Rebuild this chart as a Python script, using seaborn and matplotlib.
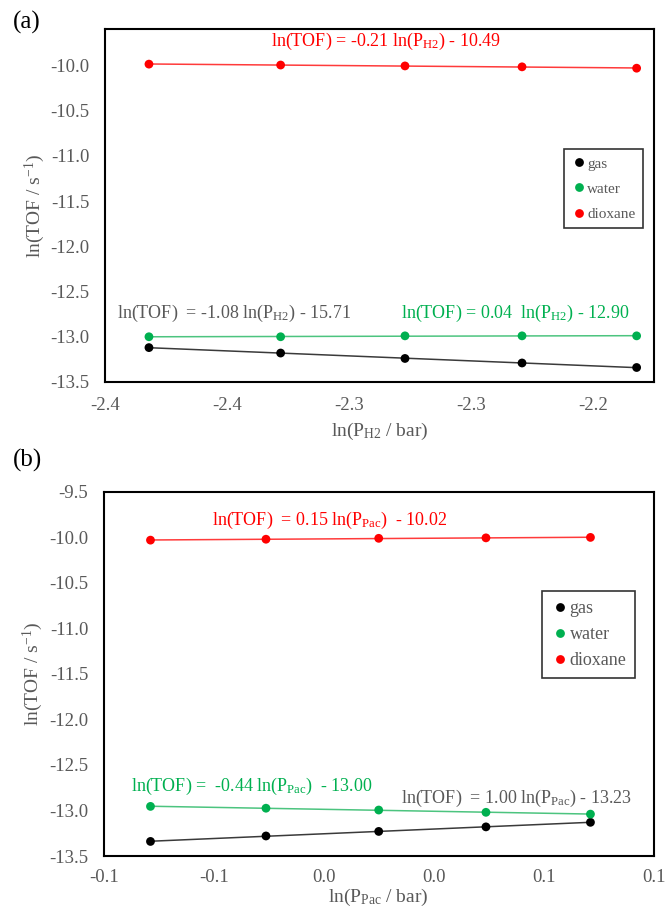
import numpy as np
import pandas as pd
import matplotlib
matplotlib.use("Agg")
import matplotlib.pyplot as plt
import seaborn as sns

# ---------------- data ----------------
MEDIA = ["gas", "water", "dioxane"]

XA = [-2.422, -2.368, -2.317, -2.269, -2.222]          # ln(P_H2 / bar)
GAS_A = [-13.12, -13.18, -13.24, -13.29, -13.34]
WATER_A = [-13.00, -13.00, -12.99, -12.99, -12.99]
DIOX_A = [-9.985, -9.995, -10.005, -10.015, -10.03]

XB = [-0.083, -0.041, 0.000, 0.039, 0.077]             # ln(P_Pac / bar)
GAS_B = [-13.34, -13.28, -13.23, -13.18, -13.13]
WATER_B = [-12.955, -12.975, -12.995, -13.02, -13.04]
DIOX_B = [-10.03, -10.02, -10.01, -10.005, -10.00]

XA_TICKS = [-2.44, -2.39, -2.34, -2.29, -2.24]
XA_TICKLABELS = ["-2.4", "-2.4", "-2.3", "-2.3", "-2.2"]
XB_TICKS = [-0.10, -0.06, -0.02, 0.02, 0.06, 0.10]
XB_TICKLABELS = ["-0.1", "-0.1", "0.0", "0.0", "0.1", "0.1"]
YA_TICKS = [-10.0, -10.5, -11.0, -11.5, -12.0, -12.5, -13.0, -13.5]
YB_TICKS = [-9.5, -10.0, -10.5, -11.0, -11.5, -12.0, -12.5, -13.0, -13.5]

EQ_A = [
    ("ln(TOF) = -0.21 ln(P$_{\\mathrm{H2}}$) - 10.49", "dioxane", -2.325, -9.73),
    ("ln(TOF)  = -1.08 ln(P$_{\\mathrm{H2}}$) - 15.71", "gas", -2.387, -12.74),
    ("ln(TOF) = 0.04  ln(P$_{\\mathrm{H2}}$) - 12.90", "water", -2.272, -12.74),
]
EQ_B = [
    ("ln(TOF)  = 0.15 ln(P$_{\\mathrm{Pac}}$)  - 10.02", "dioxane", -0.018, -9.81),
    ("ln(TOF) =  -0.44 ln(P$_{\\mathrm{Pac}}$)  - 13.00", "water", -0.046, -12.74),
    ("ln(TOF)  = 1.00 ln(P$_{\\mathrm{Pac}}$) - 13.23", "gas", 0.05, -12.87),
]

# ---------------- style ----------------
sns.set_theme(style="white")
plt.rcParams["font.family"] = ["Liberation Serif", "DejaVu Serif"]
plt.rcParams["mathtext.fontset"] = "custom"
plt.rcParams["mathtext.rm"] = "Liberation Serif"
plt.rcParams["mathtext.it"] = "Liberation Serif:italic"
plt.rcParams["axes.unicode_minus"] = False

GRAY = "#595959"
PALETTE = {"gas": "#000000", "water": "#00B050", "dioxane": "#FF0000"}
LINE_COL = {"gas": "#3a3a3a", "water": "#4CC47F", "dioxane": "#FF3B3B"}
EQ_COL = {"gas": GRAY, "water": "#00B050", "dioxane": "#FF0000"}


def make_df(x, gas, water, diox):
    rows = []
    for m, ys in zip(MEDIA, [gas, water, diox]):
        for xi, yi in zip(x, ys):
            rows.append({"x": xi, "y": yi, "medium": m})
    return pd.DataFrame(rows)


dfa = make_df(XA, GAS_A, WATER_A, DIOX_A)
dfb = make_df(XB, GAS_B, WATER_B, DIOX_B)

fig = plt.figure(figsize=(6.65, 9.16), dpi=100)
axa = fig.add_axes([0.158, 0.583, 0.825, 0.385])
axb = fig.add_axes([0.156, 0.0655, 0.827, 0.3975])


def draw(ax, df, xlim, ylim, xticks, xticklabels, yticks, eqs, xlabel, leg_anchor,
         leg_fs, leg_spacing, xpad, xlabelpad):
    for m in MEDIA:
        sub = df[df.medium == m]
        sns.regplot(data=sub, x="x", y="y", ax=ax, scatter=False, ci=None,
                    truncate=True, color=LINE_COL[m], line_kws=dict(lw=1.1))
    sns.scatterplot(data=df, x="x", y="y", hue="medium", hue_order=MEDIA,
                    palette=PALETTE, s=40, edgecolor="none", ax=ax, zorder=5)
    ax.set_xlim(*xlim)
    ax.set_ylim(*ylim)
    ax.set_xticks(xticks)
    ax.set_xticklabels(xticklabels)
    ax.set_yticks(yticks)
    ax.set_yticklabels([f"{v:.1f}" for v in yticks])
    ax.tick_params(axis="both", direction="in", length=5, width=1.2,
                   colors="black", labelcolor=GRAY, labelsize=13.5)
    ax.tick_params(axis="x", pad=xpad)
    ax.tick_params(axis="y", pad=11)
    for s in ax.spines.values():
        s.set_color("black")
        s.set_linewidth(1.5)
    ax.set_xlabel(xlabel, fontsize=14, color=GRAY, labelpad=xlabelpad)
    ax.set_ylabel("ln(TOF / s$^{\\mathrm{-1}}$)", fontsize=14, color=GRAY, labelpad=3)
    for txt, m, tx, ty in eqs:
        ax.text(tx, ty, txt, ha="center", va="center", color=EQ_COL[m], fontsize=13)
    h, l = ax.get_legend_handles_labels()
    leg = ax.legend(h, l, loc="upper left", bbox_to_anchor=leg_anchor, frameon=True,
                    fancybox=False, edgecolor="black", fontsize=leg_fs,
                    labelcolor=GRAY, handletextpad=0.05, handlelength=1.0,
                    borderpad=0.5, labelspacing=leg_spacing, borderaxespad=0)
    leg.get_frame().set_linewidth(1.2)


draw(axa, dfa, (-2.44, -2.215), (-13.5, -9.6), XA_TICKS, XA_TICKLABELS, YA_TICKS,
     EQ_A, "ln(P$_{\\mathrm{H2}}$ / bar)", (0.836, 0.66), 11, 0.75, 11, 5)
draw(axb, dfb, (-0.10, 0.10), (-13.5, -9.5), XB_TICKS, XB_TICKLABELS, YB_TICKS,
     EQ_B, "ln(P$_{\\mathrm{Pac}}$ / bar)", (0.796, 0.727), 13, 0.5, 9, 1)

fig.text(0.019, 0.976, "(a)", fontsize=18, color="black", va="center", ha="left")
fig.text(0.019, 0.497, "(b)", fontsize=18, color="black", va="center", ha="left")

fig.savefig("out.png", dpi=100)
